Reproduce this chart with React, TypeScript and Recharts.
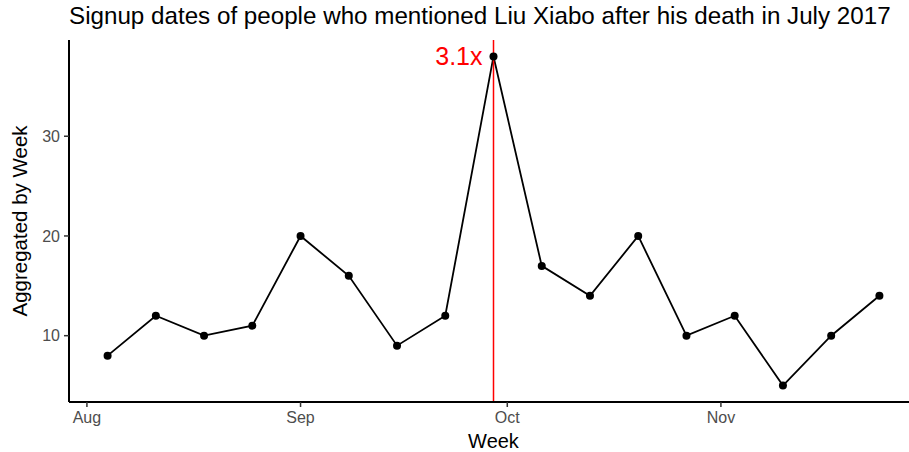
import React from 'react';
import { LineChart, Line, XAxis, YAxis, ReferenceLine, ReferenceDot } from 'recharts';

// Days since 1 Aug 2017 for each weekly point (Aug 4 ... Nov 24)
const weekDays = [3, 10, 17, 24, 31, 38, 45, 52, 59, 66, 73, 80, 87, 94, 101, 108, 115];
const signupCounts = [8, 12, 10, 11, 20, 16, 9, 12, 38, 17, 14, 20, 10, 12, 5, 10, 14];
const monthTicks = [0, 31, 61, 92];
const monthLabels = ['Aug', 'Sep', 'Oct', 'Nov'];
const yTicks = [10, 20, 30];
const deathWeekDay = 59;
const peakValue = 38;
const peakLabel = '3.1x';

const data = weekDays.map((d, i) => ({ day: d, count: signupCounts[i] }));

const FONT = '"Liberation Sans", Arial, Helvetica, sans-serif';

export default function App() {
  return (
    <div style={{ position: 'absolute', left: 0, top: 0, width: 909, height: 452, overflow: 'hidden', background: 'white' }}>
      <LineChart
        width={919}
        height={452}
        data={data}
        margin={{ top: 40, right: 1, left: 0, bottom: 0 }}
        style={{ fontFamily: FONT }}
      >
        <XAxis
          type="number"
          dataKey="day"
          domain={[-2.6, 120.6]}
          allowDataOverflow
          ticks={monthTicks}
          interval={0}
          tickFormatter={(v: number) => monthLabels[monthTicks.indexOf(v)] ?? ''}
          height={50}
          tickSize={5}
          tickMargin={5}
          axisLine={{ stroke: '#000', strokeWidth: 2 }}
          tickLine={{ stroke: '#333', strokeWidth: 1.5 }}
          tick={{ fill: '#4d4d4d', fontSize: 16, fontFamily: FONT }}
        />
        <YAxis
          type="number"
          domain={[3.35, 39.65]}
          allowDataOverflow
          ticks={yTicks}
          interval={0}
          width={69}
          tickSize={5}
          tickMargin={4}
          axisLine={{ stroke: '#000', strokeWidth: 2 }}
          tickLine={{ stroke: '#333', strokeWidth: 1.5 }}
          tick={{ fill: '#4d4d4d', fontSize: 16, fontFamily: FONT }}
        />
        <Line
          type="linear"
          dataKey="count"
          stroke="#000"
          strokeWidth={1.8}
          dot={{ r: 4, fill: '#000', stroke: '#000', strokeWidth: 0 }}
          isAnimationActive={false}
        />
        <ReferenceLine x={deathWeekDay} stroke="#ff0000" strokeWidth={1.5} />
        <ReferenceDot
          x={deathWeekDay}
          y={peakValue}
          r={1}
          fill="none"
          stroke="none"
          label={{ value: peakLabel, position: 'left', offset: 10, fill: '#ff0000', fontSize: 25, fontFamily: FONT }}
        />
      </LineChart>
      <svg width={909} height={452} style={{ position: 'absolute', left: 0, top: 0, pointerEvents: 'none' }}>
        <text x={69} y={23.5} fontSize={24.2} fontFamily={FONT} fill="#000">
          Signup dates of people who mentioned Liu Xiabo after his death in July 2017
        </text>
        <text x={493.5} y={448} fontSize={20} fontFamily={FONT} fill="#000" textAnchor="middle">
          Week
        </text>
        <text
          x={27}
          y={221}
          fontSize={20.5}
          fontFamily={FONT}
          fill="#000"
          textAnchor="middle"
          transform="rotate(-90 27 221)"
        >
          Aggregated by Week
        </text>
      </svg>
    </div>
  );
}
